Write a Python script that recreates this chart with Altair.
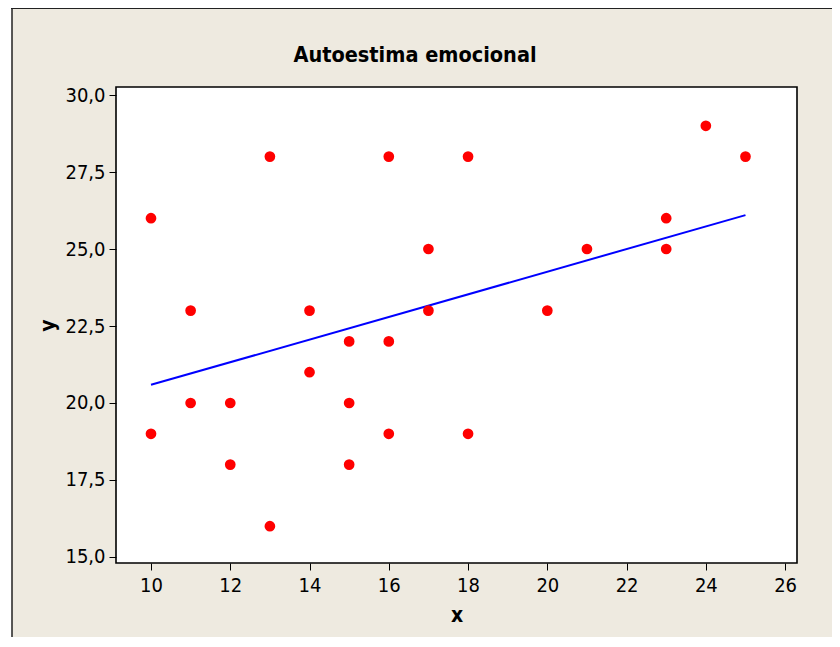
import altair as alt
import pandas as pd

# ---- data ----
x_vals = [10, 10, 11, 11, 12, 12, 13, 13, 14, 14, 15, 15, 15, 16, 16, 16, 17, 17, 18, 18, 20, 21, 23, 23, 24, 25]
y_vals = [26, 19, 23, 20, 20, 18, 28, 16, 23, 21, 22, 20, 18, 28, 22, 19, 25, 23, 28, 19, 23, 25, 26, 25, 29, 28]
fit_x = [10, 25]
fit_y = [20.59, 26.10]
x_ticks = [10, 12, 14, 16, 18, 20, 22, 24, 26]
y_ticks = [15.0, 17.5, 20.0, 22.5, 25.0, 27.5, 30.0]
title_text = "Autoestima emocional"
x_title = "x"
y_title = "y"

W, H = 681, 476
FONT = "Liberation Sans Narrow, DejaVu Sans Condensed, sans-serif"
BEIGE = "#EEEAE0"

pts = pd.DataFrame({"x": x_vals, "y": y_vals})
fit = pd.DataFrame({"x": fit_x, "y": fit_y})
one = pd.DataFrame({"t": [title_text]})

xscale = alt.Scale(domain=[9.117, 26.30], nice=False, zero=False)
yscale = alt.Scale(domain=[14.805, 30.26], nice=False, zero=False)

xaxis = alt.Axis(values=x_ticks, format="d", title=x_title, grid=False, domain=False,
                 tickSize=7, tickColor="black", tickWidth=1, labelPadding=5,
                 labelFont=FONT, labelFontSize=20, labelColor="black",
                 titleFont=FONT, titleFontSize=21, titleFontWeight="bold", titleColor="black",
                 titleX=W / 2, titleY=58, titleBaseline="alphabetic", zindex=2)
yaxis = alt.Axis(values=y_ticks, labelExpr="replace(format(datum.value, '.1f'), '.', ',')",
                 title=y_title, grid=False, domain=False,
                 tickSize=7, tickColor="black", tickWidth=1, labelPadding=4,
                 labelFont=FONT, labelFontSize=20, labelColor="black",
                 titleFont=FONT, titleFontSize=21, titleFontWeight="bold", titleColor="black",
                 titleX=-62, titleY=H / 2, titleBaseline="alphabetic", zindex=2)

frame = alt.Chart(one).mark_rect(fill=BEIGE, strokeWidth=0).encode(
    x=alt.value(-104), x2=alt.value(720), y=alt.value(-79), y2=alt.value(620))
top_border = alt.Chart(one).mark_rule(color="#222222", strokeWidth=2).encode(
    x=alt.value(-105), x2=alt.value(720), y=alt.value(-79))
left_border = alt.Chart(one).mark_rule(color="#222222", strokeWidth=1.5).encode(
    x=alt.value(-104), y=alt.value(-79), y2=alt.value(620))
plotbox = alt.Chart(one).mark_rect(fill="white", stroke="black", strokeWidth=1.6).encode(
    x=alt.value(0), x2=alt.value(W), y=alt.value(0), y2=alt.value(H))

title = alt.Chart(one).mark_text(font=FONT, fontSize=21.5, fontWeight="bold", color="black",
                                 align="center", baseline="alphabetic").encode(
    text="t:N", x=alt.value(299), y=alt.value(-25))

line = alt.Chart(fit).mark_line(color="#0000FF", strokeWidth=2).encode(
    x=alt.X("x:Q", scale=xscale, axis=xaxis),
    y=alt.Y("y:Q", scale=yscale, axis=yaxis))

points = alt.Chart(pts).mark_circle(size=115, color="#FF0000", opacity=1).encode(
    x=alt.X("x:Q", scale=xscale, axis=xaxis),
    y=alt.Y("y:Q", scale=yscale, axis=yaxis))

chart = alt.layer(frame, top_border, left_border, plotbox, title, line, points).properties(
    width=W, height=H,
    autosize=alt.AutoSizeParams(type="none"),
    padding={"left": 108, "top": 79, "right": 35, "bottom": 74},
    background="white",
).configure_view(stroke=None)

chart.save("out.html", embed_options={"renderer": "svg", "actions": False})
